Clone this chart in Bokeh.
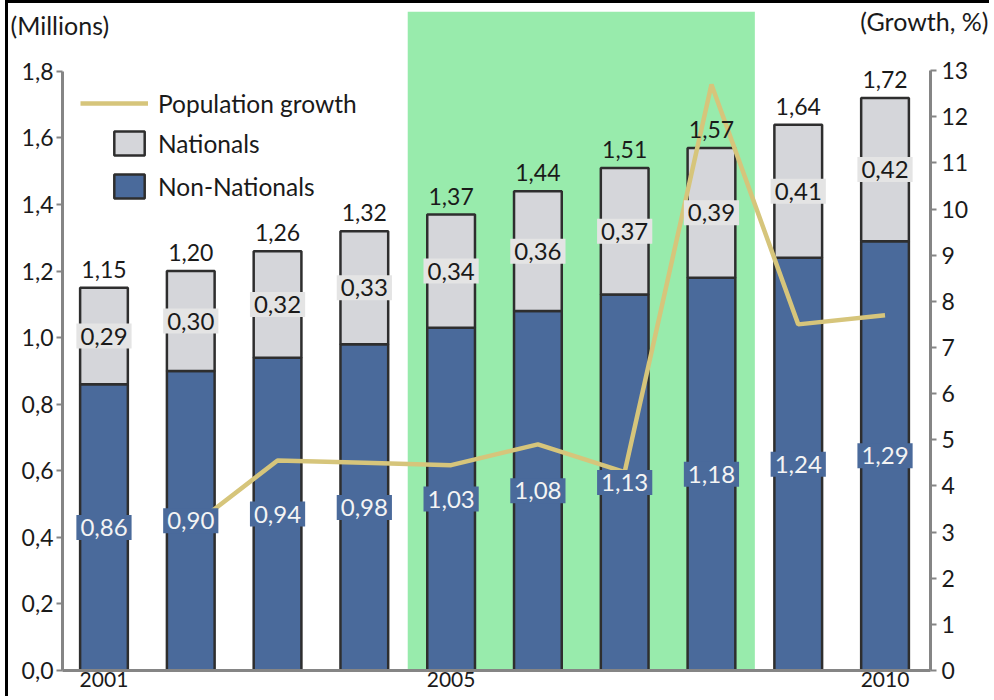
from bokeh.plotting import figure
from bokeh.models import (ColumnDataSource, Range1d, LinearAxis, FixedTicker,
                          CustomJSTickFormatter, BoxAnnotation, Legend, LegendItem, Title)
from bokeh.embed import file_html
from bokeh.resources import INLINE
from bokeh.core.properties import value

# ---------------- data ----------------
years = [2001, 2002, 2003, 2004, 2005, 2006, 2007, 2008, 2009, 2010]
non_nationals = [0.86, 0.90, 0.94, 0.98, 1.03, 1.08, 1.13, 1.18, 1.24, 1.29]
nationals = [0.29, 0.30, 0.32, 0.33, 0.34, 0.36, 0.37, 0.39, 0.41, 0.42]
totals = [1.15, 1.20, 1.26, 1.32, 1.37, 1.44, 1.51, 1.57, 1.64, 1.72]

growth_years = [2002, 2003, 2004, 2005, 2006, 2007, 2008, 2009, 2010]
growth = [3.1, 4.55, 4.5, 4.45, 4.9, 4.3, 12.7, 7.5, 7.7]

highlight_years = [2005, 2008]

left_ticks = [0.0, 0.2, 0.4, 0.6, 0.8, 1.0, 1.2, 1.4, 1.6, 1.8]
right_ticks = [0, 1, 2, 3, 4, 5, 6, 7, 8, 9, 10, 11, 12, 13]
x_ticks = [2001, 2005, 2010]

# ---------------- styles ----------------
FONT = "Lato"
BLUE = "#4a6a9b"
GREY = "#d5d6da"
LABEL_GREY = "#e4e4e4"
GREEN = "#98ebac"
KHAKI = "#d6c57b"
AXIS = "#858585"
TEXT = "#1a1a1a"
OUTLINE = "#2e2e2e"


def fmt(v):
    return f"{v:.2f}".replace(".", ",")


src = ColumnDataSource(dict(
    year=years,
    nn=non_nationals,
    nat=nationals,
    total=totals,
    nn_mid=[v / 2 for v in non_nationals],
    nat_mid=[(a + b) / 2 for a, b in zip(non_nationals, totals)],
    nn_lbl=[fmt(v) for v in non_nationals],
    nat_lbl=[fmt(v) for v in nationals],
    tot_lbl=[fmt(v) for v in totals],
))
gsrc = ColumnDataSource(dict(year=growth_years, g=growth))

pad_left = 0.478
pad_right = 0.524
p = figure(width=984, height=696, output_backend="svg", toolbar_location=None,
           x_range=Range1d(years[0] - pad_left, years[-1] + pad_right),
           y_range=Range1d(0, 1.98),
           min_border_left=54, min_border_right=62, min_border_top=8, min_border_bottom=29,
           styles={"margin-left": "5px", "margin-top": "0px",
                   "border-top": "3px solid black", "border-left": "3px solid black"})
p.extra_y_ranges = {"growth": Range1d(0, 14.28)}
p.outline_line_color = None
p.xgrid.grid_line_color = None
p.ygrid.grid_line_color = None

# highlight band
p.add_layout(BoxAnnotation(left=highlight_years[0] - 0.5, right=highlight_years[1] + 0.5,
                           fill_color=GREEN, fill_alpha=1.0, line_color=None, level="underlay"))

bw = 0.55
r_nn = p.vbar(x="year", top="nn", bottom=0, width=bw, source=src,
              fill_color=BLUE, line_color=OUTLINE, line_width=2.5)
r_nat = p.vbar(x="year", top="total", bottom="nn", width=bw, source=src,
               fill_color=GREY, line_color=OUTLINE, line_width=2.5)

r_line = p.line(x="year", y="g", source=gsrc, y_range_name="growth",
                line_color=KHAKI, line_width=4.5)

# value labels
p.text(x="year", y="nn_mid", text="nn_lbl", source=src,
       text_font=value(FONT), text_font_size="24px", text_color="#f4f4f4",
       text_align="center", text_baseline="middle",
       background_fill_color=BLUE, padding=4)
p.text(x="year", y="nat_mid", text="nat_lbl", source=src,
       text_font=value(FONT), text_font_size="24px", text_color=TEXT,
       text_align="center", text_baseline="middle",
       background_fill_color=LABEL_GREY, padding=4)
p.text(x="year", y="total", text="tot_lbl", source=src,
       text_font=value(FONT), text_font_size="23px", text_color=TEXT,
       text_align="center", text_baseline="bottom", y_offset=-10)


# axes
def style_axis(ax):
    ax.axis_line_color = AXIS
    ax.axis_line_width = 3
    ax.major_tick_line_color = AXIS
    ax.major_tick_line_width = 2
    ax.major_tick_out = 6
    ax.major_tick_in = 0
    ax.minor_tick_line_color = None
    ax.major_label_text_font = FONT
    ax.major_label_text_font_size = "23px"
    ax.major_label_text_color = TEXT


yl = p.yaxis[0]
style_axis(yl)
yl.ticker = FixedTicker(ticks=left_ticks)
yl.bounds = (left_ticks[0], left_ticks[-1])
yl.formatter = CustomJSTickFormatter(code="return tick.toFixed(1).replace('.', ',');")
yl.major_label_standoff = 3

yr = LinearAxis(y_range_name="growth", ticker=FixedTicker(ticks=right_ticks),
                bounds=(right_ticks[0], right_ticks[-1]))
style_axis(yr)
yr.major_label_standoff = 5
p.add_layout(yr, "right")

xa = p.xaxis[0]
style_axis(xa)
xa.ticker = FixedTicker(ticks=x_ticks)
xa.major_tick_line_color = None
xa.major_tick_out = 0
xa.major_label_standoff = 1
xa.major_label_text_font_size = "21px"

# legends
leg1 = Legend(items=[LegendItem(label="Population growth", renderers=[r_line])],
              location=(18, 552), glyph_width=68, glyph_height=30, label_standoff=10,
              padding=0, margin=0, spacing=0, background_fill_alpha=0, border_line_alpha=0,
              label_text_font=FONT, label_text_font_size="24.5px", label_text_color=TEXT)
leg2 = Legend(items=[LegendItem(label="Nationals", renderers=[r_nat]),
                     LegendItem(label="Non-Nationals", renderers=[r_nn])],
              location=(48, 469), glyph_width=38, glyph_height=30, label_standoff=10,
              padding=0, margin=0, spacing=13, background_fill_alpha=0, border_line_alpha=0,
              label_text_font=FONT, label_text_font_size="24.5px", label_text_color=TEXT)
p.add_layout(leg1)
p.add_layout(leg2)

# unit captions (near-zero-height title rows overlapping the top of the plot area)
cap_kw = dict(text_font=FONT, text_font_size="25px", text_color=TEXT, text_font_style="normal",
              vertical_align="bottom", text_line_height=1.0)
p.add_layout(Title(text="\n(Millions)", align="left", offset=-52, standoff=-57, **cap_kw), "above")
p.add_layout(Title(text="\n(Growth, %)", align="right", offset=-58, standoff=-59, **cap_kw), "above")

open("out.html", "w").write(file_html(p, INLINE))
